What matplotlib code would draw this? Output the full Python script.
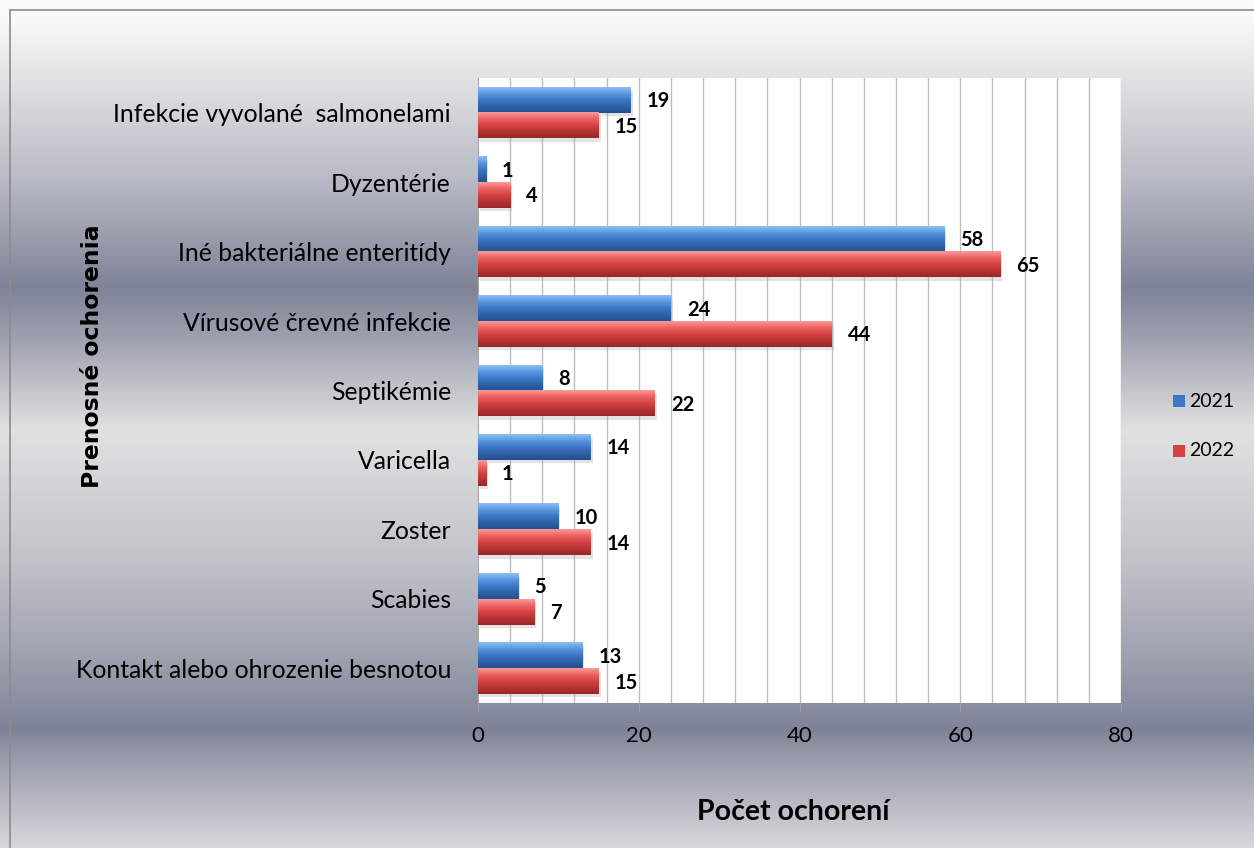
import matplotlib.pyplot as plt
import numpy as np
from matplotlib.colors import LinearSegmentedColormap
from matplotlib.patches import Rectangle
from matplotlib.transforms import ScaledTranslation

categories = [
    'Infekcie vyvolané  salmonelami',
    'Dyzentérie',
    'Iné bakteriálne enteritídy',
    'Vírusové črevné infekcie',
    'Septikémie',
    'Varicella',
    'Zoster',
    'Scabies',
    'Kontakt alebo ohrozenie besnotou',
]
v2021 = [19, 1, 58, 24, 8, 14, 10, 5, 13]
v2022 = [15, 4, 65, 44, 22, 1, 14, 7, 15]
years = ['2021', '2022']

W, H = 1254, 848
fig = plt.figure(figsize=(W / 100, H / 100), dpi=100)

# background: banded grey "metal" gradient
bg = fig.add_axes([0, 0, 1, 1], zorder=-10)
stops = [(0, '#fbfbfb'), (20, '#f8f8f8'), (100, '#d9d9dc'), (180, '#b7bac4'),
         (287, '#7e8397'), (330, '#989cab'), (430, '#e1e1e1'), (560, '#c1c3ca'),
         (650, '#a1a5b1'), (731, '#7e8397'), (760, '#989cab'), (848, '#d6d7db')]
cmap_bg = LinearSegmentedColormap.from_list('bg', [(p / H, c) for p, c in stops])
bg.imshow(np.linspace(0, 1, H).reshape(-1, 1), cmap=cmap_bg, aspect='auto',
          extent=(0, 1, 1, 0), origin='upper')
bg.set_xlim(0, 1)
bg.set_ylim(1, 0)
bg.axis('off')
fig.patches.append(Rectangle((10 / W, -0.01), 1.1, 1 - 10 / H + 0.01, transform=fig.transFigure,
                             fill=False, edgecolor='#8c8c8c', linewidth=1.2))

x0, x1, y0, y1 = 478, 1121, 78, 703
ax = fig.add_axes([x0 / W, 1 - y1 / H, (x1 - x0) / W, (y1 - y0) / H])
ax.set_facecolor('white')

blue = LinearSegmentedColormap.from_list('b', ['#8cc0f4', '#5a97e0', '#3b77c6', '#2f62a8', '#25508c'])
red = LinearSegmentedColormap.from_list('r', ['#fa9a9a', '#ee6262', '#d64242', '#b83232', '#962828'])
grad = np.linspace(0, 1, 64).reshape(-1, 1)
off = ScaledTranslation(16 / 100, 0, fig.dpi_scale_trans)

bh = 0.37
y = np.arange(len(categories))
for i in y:
    for j, (vals, cm) in enumerate([(v2021, blue), (v2022, red)]):
        v = vals[i]
        top = i - bh + j * bh
        ax.add_patch(Rectangle((0.25, top + 0.05), v, bh, facecolor='#b0b0b0', alpha=0.35,
                               edgecolor='none', zorder=2))
        ax.imshow(grad, cmap=cm, aspect='auto', extent=(0, v, top + bh, top),
                  origin='upper', zorder=3, interpolation='bilinear')
        ax.text(v, top + bh / 2 + 0.02, str(v), fontsize=14.5, fontweight='bold', family='Lato',
                ha='left', va='center', zorder=4, transform=ax.transData + off)

ax.set_xlim(0, 80)
ax.set_ylim(len(categories) - 0.5, -0.5)
for gx in range(4, 81, 4):
    ax.axvline(gx, color='#bdbdbd', linewidth=1, zorder=1)

ax.set_xticks(range(0, 81, 20))
ax.set_xticklabels([str(t) for t in range(0, 81, 20)], family='Lato', fontsize=16)
ax.set_yticks(y)
ax.set_yticklabels(categories, family='Lato', fontsize=17.8)
ax.tick_params(axis='y', length=0, pad=19.5)
ax.tick_params(axis='x', length=6.5, color='#a0a0a0', pad=10, direction='out')
for s in ['top', 'right', 'bottom']:
    ax.spines[s].set_visible(False)
ax.spines['left'].set_color('#a6a6a6')

fig.text(93 / W, 1 - 356 / H, 'Prenosné ochorenia', rotation=90, ha='center', va='center',
         fontsize=16.9, fontweight='bold', family='DejaVu Sans')
fig.text(793 / W, 1 - 812 / H, 'Počet ochorení', ha='center', va='center',
         fontsize=20.5, fontweight='bold', family='Lato')

# legend
for k, (yr, c) in enumerate(zip(years, ['#3b77c6', '#d64242'])):
    ly = 401 + k * 50
    fig.patches.append(Rectangle((1173 / W, 1 - (ly + 6) / H), 12 / W, 12 / H,
                                 transform=fig.transFigure, facecolor=c, edgecolor='none'))
    fig.text(1189 / W, 1 - ly / H, yr, ha='left', va='center', fontsize=14, family='Lato')

fig.savefig('out.png', dpi=100)
